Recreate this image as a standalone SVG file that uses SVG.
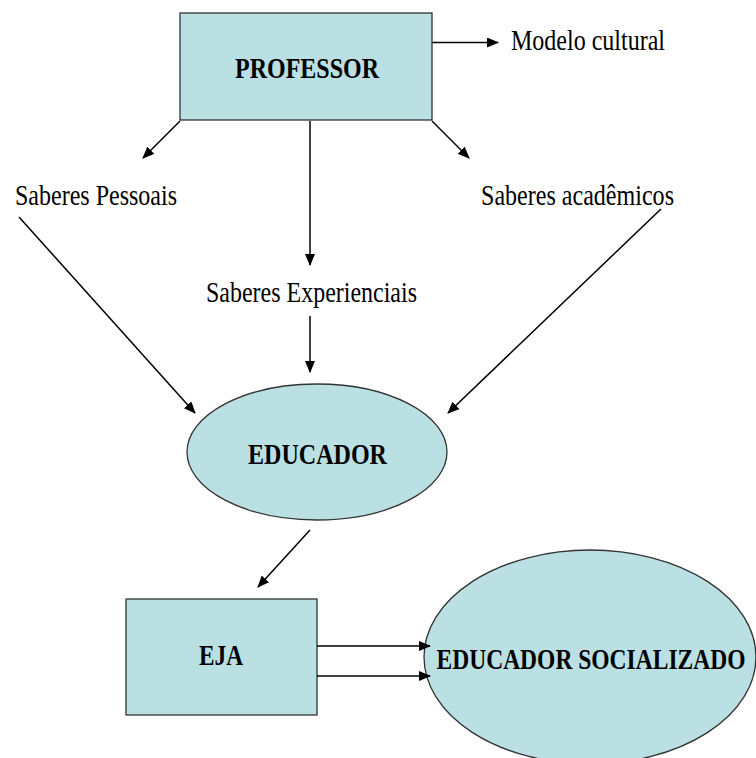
<svg xmlns="http://www.w3.org/2000/svg" width="756" height="758" viewBox="0 0 756 758">
<style>
.node{fill:#BBE0E3;stroke:#333;stroke-width:1.3}
.b{font-family:"Liberation Serif",serif;font-weight:bold;font-size:29px;fill:#000}
.t{font-family:"Liberation Serif",serif;font-size:29px;fill:#000}
.c{stroke:#000;stroke-width:1.5;fill:none;marker-end:url(#ah)}
</style>
<defs>
<marker id="ah" viewBox="0 0 12 10" refX="11" refY="5" markerWidth="12" markerHeight="10" markerUnits="userSpaceOnUse" orient="auto"><path d="M0,0 L12,5 L0,10 z" fill="#000"/></marker>
</defs>
<rect width="756" height="758" fill="#fff"/>
<g id="professor"><rect class="node" x="180" y="13" width="252" height="107"/><text class="b" x="307" y="78" text-anchor="middle" textLength="144" lengthAdjust="spacingAndGlyphs">PROFESSOR</text></g>
<g id="modelo"><text class="t" x="511" y="50" textLength="154" lengthAdjust="spacingAndGlyphs">Modelo cultural</text></g>
<g id="pessoais"><text class="t" x="15" y="205" textLength="162" lengthAdjust="spacingAndGlyphs">Saberes Pessoais</text></g>
<g id="academicos"><text class="t" x="481" y="205" textLength="193" lengthAdjust="spacingAndGlyphs">Saberes acadêmicos</text></g>
<g id="experienciais"><text class="t" x="206" y="302" textLength="211" lengthAdjust="spacingAndGlyphs">Saberes Experienciais</text></g>
<g id="educador"><ellipse class="node" cx="317" cy="452" rx="130" ry="68"/><text class="b" x="317.5" y="464" text-anchor="middle" textLength="139" lengthAdjust="spacingAndGlyphs">EDUCADOR</text></g>
<g id="eja"><rect class="node" x="126" y="599" width="191" height="116"/><text class="b" x="221" y="665" text-anchor="middle" textLength="44" lengthAdjust="spacingAndGlyphs">EJA</text></g>
<g id="socializado"><ellipse class="node" cx="590" cy="657" rx="166" ry="107"/><text class="b" x="591" y="669" text-anchor="middle" textLength="309" lengthAdjust="spacingAndGlyphs">EDUCADOR SOCIALIZADO</text></g>
<g id="connectors">
<line class="c" x1="432" y1="42.5" x2="498" y2="42.5"/>
<line class="c" x1="180" y1="121" x2="143" y2="158"/>
<line class="c" x1="432" y1="121" x2="469" y2="158"/>
<line class="c" x1="310" y1="121" x2="310" y2="265"/>
<line class="c" x1="19" y1="217" x2="195" y2="413"/>
<line class="c" x1="310" y1="316" x2="310" y2="372"/>
<line class="c" x1="661" y1="209" x2="448" y2="413"/>
<line class="c" x1="310" y1="530" x2="258" y2="587"/>
<line class="c" x1="317" y1="646" x2="430" y2="646"/>
<line class="c" x1="317" y1="676" x2="430" y2="676"/>
</g>
</svg>
